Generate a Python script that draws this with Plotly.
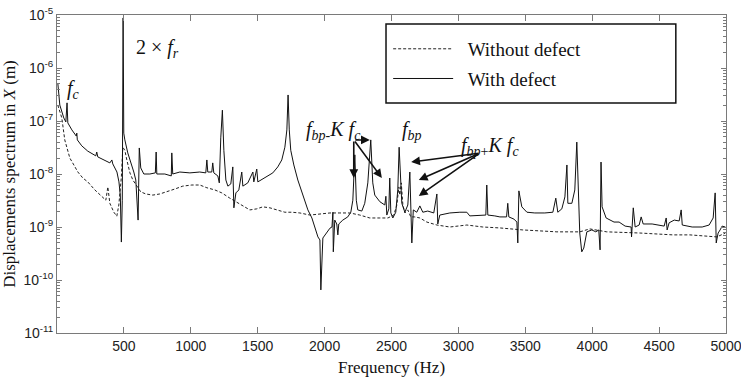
import plotly.graph_objects as go

# ---- "With defect" (solid) : frequency (Hz) and displacement (m) ----
with_f = [6, 21, 51, 66, 75, 81, 111, 144, 148, 152, 185, 230, 290, 297, 305, 357, 395, 410, 417,
          448, 463, 473, 481, 488, 494, 499, 507, 529, 559, 574, 589, 600, 606, 615, 626, 649, 694,
          735, 741, 746, 806, 854, 858, 865, 918, 993, 1067, 1112, 1120, 1127, 1157, 1164, 1172,
          1202, 1213, 1224, 1236, 1247, 1262, 1277, 1299, 1314, 1322, 1337, 1359, 1381, 1389, 1426,
          1464, 1471, 1493, 1501, 1538, 1576, 1613, 1650, 1680, 1703, 1718, 1727, 1736, 1747, 1770,
          1800, 1830, 1845, 1875, 1905, 1927, 1950, 1965, 1972, 1987, 2017, 2040, 2055, 2062, 2065,
          2076, 2091, 2099, 2106, 2136, 2173, 2196, 2211, 2226, 2237, 2248, 2278, 2300, 2323, 2345,
          2360, 2375, 2413, 2450, 2458, 2465, 2480, 2487, 2495, 2510, 2532, 2547, 2557, 2570, 2577,
          2600, 2622, 2637, 2644, 2652, 2663, 2689, 2712, 2734, 2771, 2816, 2839, 2846, 2861, 2936,
          3011, 3063, 3085, 3183, 3205, 3212, 3220, 3272, 3310, 3360, 3369, 3377, 3415, 3437, 3444,
          3452, 3474, 3512, 3571, 3646, 3706, 3728, 3743, 3773, 3796, 3811, 3818, 3848, 3870, 3885,
          3896, 3907, 3922, 3937, 3960, 3982, 3997, 4027, 4049, 4059, 4066, 4074, 4104, 4163, 4201,
          4246, 4291, 4294, 4307, 4321, 4351, 4366, 4381, 4448, 4500, 4538, 4553, 4560, 4575, 4613,
          4650, 4665, 4673, 4747, 4822, 4874, 4904, 4919, 4927, 4941, 4956, 4971, 4995]
with_v = [5.2e-7, 2.0e-7, 1.14e-7, 9.6e-8, 2.2e-7, 9.2e-8, 6.8e-8, 5.2e-8, 5.9e-8, 4.4e-8, 3.4e-8,
          2.7e-8, 2.2e-8, 2.6e-8, 2.1e-8, 1.84e-8, 1.62e-8, 1.84e-8, 1.55e-8,
          1.09e-8, 7.1e-9, 4.0e-9, 5.2e-10, 3.2e-9, 8.8e-6, 5.9e-8, 4.4e-8, 2.5e-8, 1.48e-8, 1.09e-8,
          7.7e-9, 3.2e-9, 1.35e-9, 3.1e-8, 1.3e-8, 1.0e-8, 1.0e-8,
          1.05e-8, 2.6e-8, 1.0e-8, 1.0e-8, 9.2e-9, 2.5e-8, 1.0e-8, 1.09e-8, 1.05e-8, 1.09e-8, 1.05e-8,
          1.84e-8, 1.09e-8, 1.09e-8, 1.62e-8, 1.05e-8,
          9.2e-9, 6.8e-9, 4.8e-8, 1.6e-7, 2.8e-8, 7.7e-9, 5.9e-9, 6.5e-9, 1.36e-8, 2.3e-9, 4.4e-9,
          5.0e-9, 1.09e-8, 5.9e-9, 6.8e-9,
          1.09e-8, 7.1e-9, 1.24e-8, 7.1e-9, 8.1e-9, 9.2e-9, 1.05e-8, 1.36e-8, 1.84e-8, 3.2e-8, 6.8e-8,
          3.1e-7, 6.8e-8, 2.8e-8, 1.48e-8,
          7.7e-9, 4.4e-9, 3.5e-9, 2.1e-9, 1.48e-9, 9.5e-10, 6.5e-10, 5.7e-10, 6.5e-11, 6.2e-10,
          8.1e-10, 9.5e-10, 1.0e-9, 1.9e-9, 3.4e-10,
          1.35e-9, 1.14e-9, 7.1e-10, 1.14e-9, 1.35e-9, 1.55e-9, 1.9e-9, 3.2e-9, 2.3e-8, 3.2e-9,
          2.1e-9, 2.0e-9, 2.8e-9, 6.8e-9, 4.4e-8,
          6.8e-9, 4.0e-9, 3.0e-9, 2.6e-9, 3.8e-9, 1.68e-9, 2.2e-9, 8.4e-9, 1.84e-9, 1.48e-9, 1.9e-9,
          5.0e-9, 3.2e-8, 5.0e-9, 2.8e-9,
          1.9e-9, 2.6e-9, 1.09e-8, 3.2e-9, 5.0e-10, 2.1e-9, 1.9e-9, 2.5e-9, 1.9e-9, 2.0e-9, 1.84e-9,
          4.2e-9, 1.14e-9, 1.68e-9, 1.84e-9,
          1.9e-9, 1.9e-9, 1.62e-9, 1.68e-9, 1.68e-9, 6.2e-9, 1.68e-9, 1.62e-9, 1.55e-9, 1.55e-9,
          2.8e-9, 1.55e-9, 1.41e-9, 1.24e-9, 5.0e-10,
          4.8e-9, 2.4e-9, 1.9e-9, 1.84e-9, 1.84e-9, 1.9e-9, 3.5e-9, 1.9e-9, 2.2e-9, 3.7e-9, 1.48e-8,
          2.8e-9, 2.8e-9, 5.0e-9, 4.0e-8,
          3.2e-9, 7.7e-10, 3.4e-10, 4.0e-10, 8.1e-10, 8.5e-10, 8.8e-10, 8.1e-10, 8.8e-10, 3.7e-10,
          1.68e-8, 2.4e-9, 1.48e-9, 1.24e-9, 1.24e-9,
          1.04e-9, 1.0e-9, 6.5e-10, 2.3e-9, 1.0e-9, 1.09e-9, 1.55e-9, 1.14e-9, 1.14e-9, 1.09e-9,
          1.04e-9, 1.48e-9, 8.8e-10, 1.2e-9, 1.35e-9,
          1.3e-9, 2.1e-9, 1.09e-9, 1.0e-9, 1.0e-9, 1.09e-9, 1.48e-9, 4.4e-9, 5.0e-10, 7.7e-10,
          8.8e-10, 1.04e-9, 1.0e-9]

# ---- "Without defect" (dashed) ----
without_f = [6, 36, 58, 81, 96, 126, 156, 193, 230, 283, 335, 365, 380, 395, 425, 447, 462, 469, 481,
             492, 507, 522, 545, 567, 596, 626, 664, 716, 768, 821, 880, 940, 1008, 1067, 1120, 1180,
             1232, 1292, 1337, 1381, 1441, 1493, 1538, 1591, 1650, 1703, 1755, 1815, 1890, 1965,
             2040, 2114, 2189, 2263, 2338, 2413, 2473, 2517, 2540, 2555, 2562, 2573, 2585, 2600,
             2622, 2644, 2674, 2712, 2764, 2839, 2936, 3063, 3183, 3310, 3482, 3736, 3907, 3982,
             4109, 4356, 4603, 4730, 4932, 4995]
without_v = [2.0e-7, 1.14e-7, 4.4e-8, 2.6e-8, 2.0e-8, 1.48e-8, 1.09e-8, 8.4e-9, 7.1e-9, 5.0e-9,
             3.7e-9, 3.2e-9, 5.7e-9, 2.8e-9, 1.9e-9, 1.6e-9, 2.6e-9, 4.4e-9, 8.8e-9,
             3.2e-8, 2.8e-8, 1.84e-8, 1.05e-8, 7.7e-9, 5.9e-9, 4.6e-9, 4.2e-9, 4.0e-9, 4.2e-9, 4.6e-9,
             5.2e-9, 5.9e-9, 6.2e-9, 6.2e-9, 5.5e-9, 5.0e-9,
             4.4e-9, 3.5e-9, 3.0e-9, 2.5e-9, 2.1e-9, 2.2e-9, 2.4e-9, 2.3e-9, 2.1e-9, 1.9e-9, 1.9e-9,
             1.84e-9, 1.68e-9, 1.76e-9,
             1.84e-9, 1.84e-9, 1.84e-9, 1.68e-9, 1.48e-9, 1.48e-9, 1.48e-9, 1.68e-9, 2.6e-9, 5.7e-9,
             4.0e-9, 6.8e-9, 2.6e-9, 1.84e-9,
             2.1e-9, 1.55e-9, 1.55e-9, 1.48e-9, 1.24e-9, 1.09e-9, 1.0e-9, 1.09e-9, 1.0e-9, 9.6e-10,
             8.8e-10, 8.1e-10, 8.1e-10, 9.2e-10,
             8.1e-10, 7.7e-10, 7.1e-10, 7.1e-10, 6.5e-10, 7.7e-10]

x_ticks = [500, 1000, 1500, 2000, 2500, 3000, 3500, 4000, 4500, 5000]
y_exps = [-11, -10, -9, -8, -7, -6, -5]

SERIF = "Liberation Serif, Times New Roman, serif"
SANS = "Liberation Sans, Arial, sans-serif"
AX = "#7a7a7a"
LEAD = "\u00a0\u00a0"

fig = go.Figure()
fig.add_trace(go.Scatter(x=without_f, y=without_v, mode="lines", name=LEAD + "Without defect",
                         line=dict(color="#222", width=1, dash="3px,2px"), legendgroup="a"))
fig.add_trace(go.Scatter(x=with_f, y=with_v, mode="lines", name=LEAD + "With defect",
                         line=dict(color="#111", width=1), legendgroup="b"))

minor_vals = [m * 10.0 ** e for e in y_exps[:-1] for m in range(2, 10)]

fig.update_xaxes(range=[0, 5000], tickvals=x_ticks, ticks="inside", ticklen=6, tickcolor=AX,
                 showline=True, linecolor=AX, linewidth=1, mirror="ticks", showgrid=False,
                 zeroline=False, automargin=False, ticklabeloverflow="allow",
                 tickfont=dict(family=SANS, size=14, color="#222"),
                 title=dict(text="Frequency (Hz)", font=dict(family=SERIF, size=17, color="#111"),
                            standoff=8))
fig.update_yaxes(type="log", range=[-11, -5], tickvals=[10.0 ** e for e in y_exps],
                 ticktext=["10<sup>%d</sup>" % e for e in y_exps],
                 ticks="inside", ticklen=5, tickcolor=AX,
                 minor=dict(tickvals=minor_vals, ticks="inside", ticklen=3, tickcolor=AX, showgrid=False),
                 showline=True, linecolor=AX, linewidth=1, mirror="ticks", showgrid=False,
                 zeroline=False, automargin=False,
                 tickfont=dict(family=SANS, size=14, color="#222"),
                 title=dict(text="Displacements spectrum in <i>X</i> (m)",
                            font=dict(family=SERIF, size=17, color="#111"), standoff=4))

ann_font = dict(family=SERIF, size=20, color="#111")
fig.add_annotation(x=0.012, y=0.811, xref="paper", yref="paper", showarrow=False,
                   text="<i>f</i><sub><i>c</i></sub>", font=ann_font)
fig.add_annotation(x=0.115, y=0.94, xref="paper", yref="paper", showarrow=False,
                   text="2 × <i>f</i><sub><i>r</i></sub>", font=ann_font)
fig.add_annotation(x=0.414, y=0.638, xref="paper", yref="paper", showarrow=False,
                   text="<i>f</i><sub><i>bp</i>-</sub><i>K</i> <i>f</i><sub><i>c</i></sub>", font=ann_font)
fig.add_annotation(x=0.531, y=0.638, xref="paper", yref="paper", showarrow=False,
                   text="<i>f</i><sub><i>bp</i></sub>", font=ann_font)
fig.add_annotation(x=0.647, y=0.588, xref="paper", yref="paper", showarrow=False,
                   text="<i>f</i><sub><i>bp</i>+</sub><i>K</i> <i>f</i><sub><i>c</i></sub>", font=ann_font)

# arrows: (head freq, head log10 value, tail dx px, tail dy px)
arrows = [(2218, -8.075, 0, -38), (2338, -7.358, -16, 0), (2428, -8.075, -28, -38),
          (2647, -7.774, 69, -9), (2704, -8.113, 61, -27), (2704, -8.415, 61, -43)]
for hx, hy, dx, dy in arrows:
    fig.add_annotation(x=hx, y=hy, xref="x", yref="y", ax=dx, ay=dy, text="", showarrow=True,
                       arrowhead=2, arrowsize=1.1, arrowwidth=1.6, arrowcolor="#111", standoff=0)

# legend frame
fig.add_shape(type="rect", xref="paper", yref="paper", x0=0.4918, x1=0.925, y0=0.723, y1=0.972,
              line=dict(color="#111", width=1.5), fillcolor="white", layer="above")

fig.update_layout(
    width=741, height=377, margin=dict(l=57, r=15, t=15, b=44),
    plot_bgcolor="white", paper_bgcolor="white",
    legend=dict(x=0.495, y=0.953, xanchor="left", yanchor="top", bgcolor="rgba(0,0,0,0)",
                borderwidth=0, font=dict(family=SERIF, size=19, color="#111"),
                tracegroupgap=2, itemwidth=60, traceorder="grouped"),
)
fig.write_html("out.html")
